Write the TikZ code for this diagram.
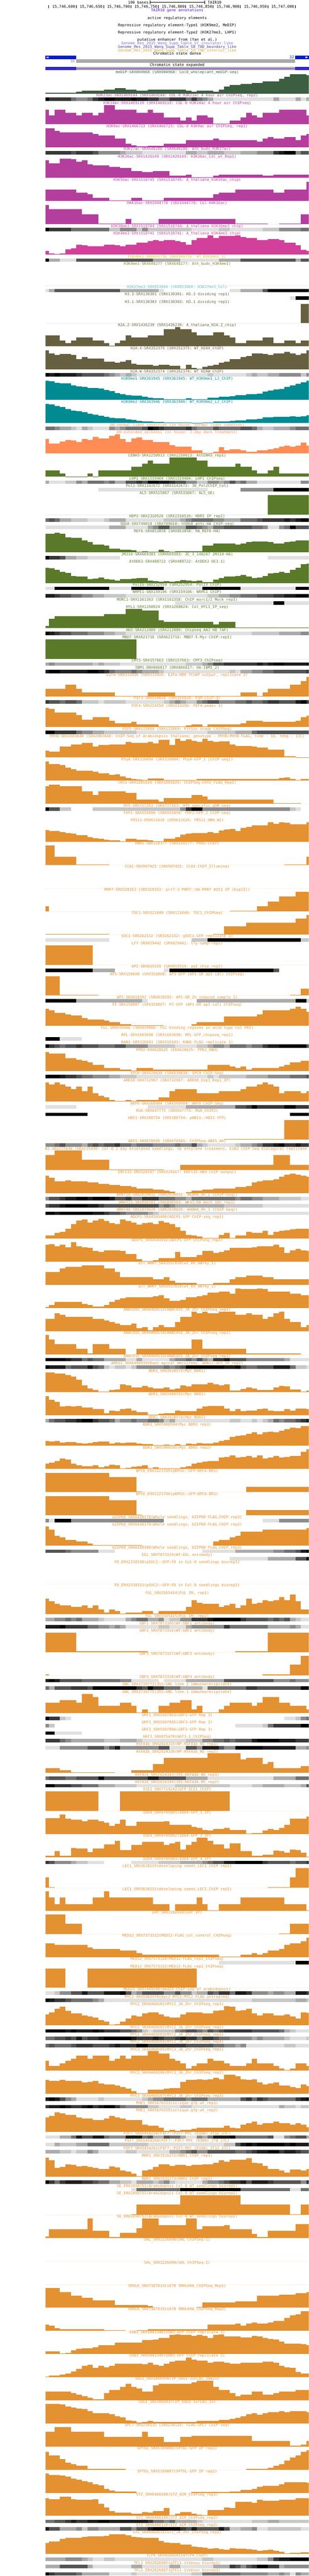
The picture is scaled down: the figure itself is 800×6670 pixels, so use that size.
\documentclass[tikz,border=0pt]{standalone}
\usepackage{fontspec}
\setmonofont{DejaVu Sans Mono}
\usepackage{tikz}
\definecolor{medipgreen}{RGB}{60,95,65}
\definecolor{acetylmag}{RGB}{180,62,158}
\definecolor{methylpink}{RGB}{210,64,155}
\definecolor{kfourtwo}{RGB}{205,205,30}
\definecolor{kfourone}{RGB}{128,128,50}
\definecolor{kzsevlight}{RGB}{100,190,190}
\definecolor{variantolive}{RGB}{102,96,64}
\definecolor{nineteal}{RGB}{0,139,147}
\definecolor{dhsalmon}{RGB}{255,140,85}
\definecolor{tfgreen}{RGB}{90,122,42}
\definecolor{tforange}{RGB}{228,145,50}
\definecolor{stateblue}{RGB}{0,32,192}
\definecolor{stategray}{RGB}{170,170,170}
\definecolor{statepurple}{RGB}{140,50,230}
\definecolor{annotblue}{RGB}{85,10,230}
\definecolor{insulator}{RGB}{123,104,238}
\definecolor{boundary}{RGB}{72,61,139}
\definecolor{interior}{RGB}{218,165,32}

\newcount\tracky
\newcount\binpos
\newcount\trackno
\newcommand{\labelfont}{\ttfamily\fontsize{9.8}{10}\selectfont}
\tikzset{
  tracklabel/.style={font=\labelfont, anchor=base, inner sep=0pt},
  headtext/.style={font=\labelfont, anchor=base, inner sep=0pt},
}
% left and right edge of a run of bins
\newcommand{\runedges}[1]{%
  \pgfmathsetmacro\xa{\the\binpos==0 ? 118 : 127+(\the\binpos-1)*14.18}%
  \global\advance\binpos by #1\relax
  \pgfmathsetmacro\xb{min(800,127+(\the\binpos-1)*14.18)}}
% signal track: label, colour, height/bins
\newcommand{\graphtrack}[3]{%
  \global\advance\trackno by 1
  \node[tracklabel, text=#2] (track\the\trackno) at (459,\the\tracky+3.5) {#1};
  \global\binpos=0
  \foreach \h/\n in {#3}{%
    \runedges{\n}
    \fill[#2] (\xa,\the\tracky+55.5) rectangle (\xb,\the\tracky+55.5-\h);
  }
  \global\advance\tracky by 60 }
% dense track: label, colour, grey/bins
\newcommand{\densetrack}[3]{%
  \global\advance\trackno by 1
  \node[tracklabel, text=#2] (track\the\trackno) at (459,\the\tracky+3.5) {#1};
  \global\binpos=0
  \foreach \g/\n in {#3}{%
    \runedges{\n}
    \ifnum\g>0 \fill[black!\g] (\xa,\the\tracky+5) rectangle (\xb,\the\tracky+14);\fi
  }
  \global\advance\tracky by 19 }

\begin{document}
\catcode`\_=12
\begin{tikzpicture}[x=1pt,y=-1pt]
\useasboundingbox (0,0) rectangle (800,6670);
% Draw the scale bar
\node[headtext, anchor=base east] (scalelabel) at (385,9.5) {100 bases};
\draw[line width=1pt] (389,2) -- (389,10.5);
\draw[line width=1pt] (389,6) -- (530,6);
\draw[line width=1pt] (530,2) -- (530,10.5);
\node[headtext, anchor=base west] (tairlabel) at (538,9.5) {TAIR10};
% Draw the ruler
\foreach \i/\lbl in {1/{15,746,600},2/{15,746,650},3/{15,746,700},4/{15,746,750},5/{15,746,800},6/{15,746,850},7/{15,746,900},8/{15,746,950},9/{15,747,000}}{
  \node[headtext, anchor=base east] (ruler\i) at (124+\i*70.9,20.5) {\lbl};
}
\foreach \i in {0,...,9}{
  \draw[line width=1pt] (126.5+\i*70.9,13) -- (126.5+\i*70.9,22);
}
% Add the annotation track labels
\node[headtext, text=annotblue] (genes) at (459,30.5) {TAIR10 gene annotations};
\node[headtext] (active) at (459,49.5) {active regulatory elements};
\node[headtext] (typeone) at (459,68.5) {Repressive regulatory element-Type1 (H3K9me2, MeDIP)};
\node[headtext] (typetwo) at (459,87.5) {Repressive regulatory element-Type2 (H3K27me3, LHP1)};
\node[headtext] (enhancer) at (459,106.5) {putative enhancer from (Yan et al.)};
\node[headtext, text=insulator] (sseven) at (459,115.5) {Genome_Res_2015_Wang_Supp_Table_S7_insulator-like};
\node[headtext, text=boundary] (seight) at (459,124.5) {Genome_Res_2015_Wang_Supp_Table_S8_TAD_boundary_like};
\node[headtext, text=interior] (snine) at (459,133.5) {Genome_Res_2015_Wang_Supp_Table_S9_TAD_interior_like};
% Draw the chromatin state tracks
\node[headtext] (statedense) at (459,142.5) {Chromatin state dense};
\fill[stateblue] (118,144) rectangle (197,153);
\fill[stateblue] (765,144) rectangle (800,153);
\fill[stategray] (197,154) rectangle (765,163);
\fill[white] (120,148.5) -- (123,146) -- (123,151) -- cycle;
\fill[white] (123,148.5) -- (126,146) -- (126,151) -- cycle;
\fill[white] (797,148.5) -- (794,146) -- (794,151) -- cycle;
\fill[white] (794,148.5) -- (791,146) -- (791,151) -- cycle;
\node[headtext, anchor=base east, text=stateblue] (thirtytwo) at (762,151.5) {32};
\node[headtext, anchor=base east, text=gray] (thirty) at (194,161.5) {30};
\node[headtext] (stateexp) at (459,171.5) {Chromatin state expanded};
\fill[stateblue] (118,173) rectangle (197,182);
\fill[stategray] (197,173) rectangle (765,182);
\fill[stateblue] (765,173) rectangle (800,182);
\draw[statepurple, line width=1pt] (118,177.5) -- (800,177.5);
\draw[statepurple, line width=1pt] (118.5,173) -- (118.5,182);
% Draw the signal tracks
\begin{scope}
\clip (118,183) rectangle (800,6670);
\global\tracky=187
\graphtrack{meDIP-SRX004968 (SRX004968: Col0_wholeplant_meDIP-seq)}{medipgreen}{2/6,5/1,8/4,11/2,14/2,11/2,8/2,11/7,8/1,5/1,8/3,5/1,11/1,18/1,22/2,25/2,28/2,32/3,38/1,44/1,50/3,48/1}
\densetrack{H3K23ac-SRX1469144 (SRX1469144: COL-0 H3K23ac 4 hour air ChIPseq, rep2)}{acetylmag}{100/1,78/4,56/1,45/2,56/1,78/1,89/1,100/2,89/3,100/1,89/2,78/2,56/2,78/3,56/1,78/1,56/1,45/1,33/1,12/11,33/1,12/3,33/1,12/1,33/1}
\graphtrack{H3K14ac-SRX1469119 (SRX1469119: COL-0 H3K14ac 4 hour air ChIPseq)}{acetylmag}{38/1,23/1,38/2,30/2,23/1,30/2,23/1,30/1,50/2,38/4,30/2,38/1,30/2,17/3,9/1,17/1,9/1,23/2,17/1,2/3,9/2,17/1,30/1,23/1,17/1,30/3,38/5,23/1}
\graphtrack{H3K9ac-SRX1466723 (SRX1466723: COL-0 H3K9ac air ChIPseq, rep1)}{acetylmag}{50/2,43/1,39/6,35/1,31/3,22/2,9/1,5/1,2/2,4/3,9/4,18/5,22/1,18/7,14/1,22/1,26/1,22/2,26/2,18/1,31/1,35/1}
\densetrack{H3K27ac-SRX648280 (SRX648280: Ath_buds_H3K27ac)}{acetylmag}{78/5,67/1,78/3,67/1,45/4,33/1,22/3,12/8,33/2,22/2,33/3,22/3,33/3,45/3,78/1,89/1,100/2,45/1,67/2}
\graphtrack{H3K36ac-SRX1426149 (SRX1426149: H3K36ac_Col_wt_Rep1)}{acetylmag}{45/1,38/2,50/2,48/1,41/1,45/1,35/1,32/3,28/2,25/2,18/2,15/2,18/3,5/3,8/1,2/4,5/1,8/8,5/2,8/7}
\graphtrack{H3K56ac-SRX1518745 (SRX1518745: A_thaliana_H3K56ac_chip)}{acetylmag}{30/6,22/2,17/1,8/3,1.5/4,8/2,1.5/4,8/9,17/1,22/3,30/7,22/2,30/4,50/1}
\graphtrack{H4K16ac-SRX1044778 (SRX1044778: Col-H4K16ac)}{acetylmag}{50/1,39/6,26/3,2/5,14/1,2/5,14/14,2/6,0/2,2/4,26/2}
\densetrack{H3K36me3-SRX1518744 (SRX1518744: A_thaliana_H3K36me3_chip)}{methylpink}{100/1,78/4,56/7,22/2,45/3,22/1,45/1,22/8,12/5,22/2,12/6,22/3,45/4,56/2}
\graphtrack{H3K4me3-SRX1518741 (SRX1518741: A_thaliana_H3K4me3_chip)}{methylpink}{10/1,3/1,2/1,3/1,14/1,16.5/1,26/1,24/1,22/3,26/2,24/1,22/1,26/2,31/2,35/1,38/1,35/1,38/2,35/1,33/1,26/1,38/1,43/2,50/1,43/1,48/3,50/1,45.5/1,43/2,38/2,41/2,38/1,31/2,25/1,12.5/1,10/1}
\densetrack{H3K4me2-DRX066756 (DRX066756: WT_H3K4me2_1)}{kfourtwo}{100/1,33/2,12/3,67/14,33/5,12/7,33/4,67/10,33/1,67/2}
\graphtrack{H3K4me1-SRX648277 (SRX648277: Ath_buds_H3K4me1)}{kfourone}{0/49}
\densetrack{H3K27me3-SRX853860 (SRX853860: H3K27me3_Col)}{kzsevlight}{12/1,33/1,67/12,33/7,12/1,0/12,12/2,33/4,67/1,100/8}
\densetrack{H3.3-SRX130301 (SRX130301: H3.3 dividing rep1)}{variantolive}{0/45,12/1,100/3}
\graphtrack{H3.1-SRX130303 (SRX130303: H3.1 dividing rep1)}{variantolive}{0/47,50/2}
\graphtrack{H2A.Z-SRX1436239 (SRX1436239: A_thaliana_H2A.Z_chip)}{variantolive}{28/3,15/1,8.5/1,15/1,23/3,15/2,8.5/1,1.5/1,8.5/1,15/1,28/1,23/3,28/3,44/2,50/1,44/2,36/1,28/3,36/2,28/1,23/1,8.5/2,15/3,23/2,8.5/2,15/2,8.5/1,15/2}
\graphtrack{H2A.X-SRX352375 (SRX352375: WT_H2AX_ChIP)}{variantolive}{50/1,42/1,37.5/1,40/2,37.5/1,27/1,32/1,28.5/3,20.5/2,17.5/1,20.5/1,24/1,15/1,12.5/3,10/1,12.5/2,9.5/2,2/1,12.5/1,3.5/1,2/1,7/1,9.5/1,12.5/1,17.5/1,20.5/1,27/2,32/1,35/1,42/2,40/1,37.5/1,42/2,45.5/1,42/1,37.5/1,42/1,50/1}
\densetrack{H2A.W-SRX352374 (SRX352374: WT_H2AW_ChIP)}{variantolive}{100/1,89/1,100/1,89/3,78/1,67/4,56/1,45/1,33/1,22/1,33/1,22/1,12/13,22/1,12/6,22/1,33/1,22/2,33/2,45/4,22/1,45/1}
\graphtrack{H3K9me1-SRX361945 (SRX361945: WT_H3K9me1_LJ_ChIP)}{nineteal}{50/1,48.7/1,44.6/1,42.4/2,37.5/1,35.3/1,33.5/1,31.3/2,29.5/1,25.4/1,22.8/1,17.9/1,15.2/1,12.9/1,11.2/2,8/1,6.3/1,4.5/2,2.2/4,4.5/1,2.2/3,6.3/2,8/2,10.3/1,12.9/2,15.2/2,17/1,21.4/1,24.6/1,27.2/1,28.6/1,33.5/1,37.5/1,41.5/1,45.5/1,49.6/1}
\graphtrack{H3K9me2-SRX361946 (SRX361946: WT_H3K9me2_LJ_ChIP)}{nineteal}{50/1,48.2/1,44.6/1,41/1,36.2/1,32.1/1,30.8/1,28.1/1,24.6/1,21.9/1,19.6/1,16.5/1,13.8/1,12/2,9.8/1,8/1,6.3/1,4.9/2,3.1/2,1.8/5,0.9/2,1.8/2,4.5/3,5.8/1,7.1/2,9.8/2,10.7/1,14.7/1,15.6/1,16.5/3,17.9/1,16.5/1,17.9/1,20/1}
\densetrack{DH-normal_light_condition (in house: normal light conditon)}{dhsalmon}{56/2,45/1,33/2,22/1,12/1,33/1,22/1,12/3,45/1,33/1,45/1,56/3,67/1,100/1,89/1,78/1,67/4,78/1,56/1,45/3,67/1,56/4,67/2,56/1,33/1,22/2,33/3,45/1,56/3}
\graphtrack{DH-extended_darkness (in house: 3-day dark treatment)}{dhsalmon}{38/1,25.4/2,30.8/1,34.8/1,33.9/1,29.9/1,38/1,34.8/1,42.9/1,38.8/2,45.5/1,49.6/1,38/1,29.9/1,38.8/1,41.5/1,34.8/2,29.9/3,21.9/1,17.9/3,8/2,2/2,5/1,17/1,8/1,11.2/2,8/1,5/2,8/2,11.2/1,13.8/1,17.9/1,21/1,17.9/1,21/1,29/1,21/1}
\graphtrack{CENH3-SRX2250913 (SRX2250913: AtCENH3_rep1)}{tfgreen}{17/3,9/1,1/4,9/1,1/1,17/6,25.5/2,34/1,42/1,34/3,50/5,42/2,25.5/5,34/1,25.5/2,17/1,9/2,17/1,25.5/1,9/6}
\densetrack{LHP1-SRX1519404 (SRX1519404: LHP1 ChIPseq)}{tfgreen}{33/1,12/3,22/2,45/1,33/1,56/3,45/1,56/1,33/2,67/2,78/1,67/1,100/2,89/2,78/1,67/2,45/2,22/2,45/2,33/1,45/1,67/1,45/1,56/1,33/2,12/8,45/2}
\densetrack{Pol2-SRX1142672 (SRX1142672: 30_Pol2ChIP_Col)}{tfgreen}{0/10,12/20,0/6,45/6,100/7}
\graphtrack{AL5-SRX515067 (SRX515067: AL5_OE)}{tfgreen}{0/41,50/8}
\densetrack{HDP2-SRX2310526 (SRX2310526: HDP2 IP rep2)}{tfgreen}{56/1,67/1,56/1,33/2,22/3,12/3,22/1,33/3,12/7,22/3,33/1,45/1,56/4,45/2,33/3,56/3,67/1,78/4,89/1,78/1,89/1,100/2}
\densetrack{SDG8-SRX749018 (SRX749018: hSDG8 anti-HA ChIP-seq)}{tfgreen}{12/12,33/3,12/4,33/1,45/1,67/2,33/3,67/2,56/1,45/1,33/1,56/2,67/5,56/2,45/1,12/2,45/1,56/1,100/1,67/3}
\graphtrack{REF6-SRX853858 (SRX853858: HA_REF6-HA)}{tfgreen}{48.5/2,50.5/1,48.5/1,39.5/1,37.5/2,31.5/1,26.5/1,20.5/2,17.5/1,9.5/2,6.5/1,7.5/1,6/1,1.5/1,3.5/1,1.5/2,6.5/1,3.5/1,1.5/1,3.5/5,17.5/2,23.5/4,20.5/1,23.5/1,26.5/1,28.5/3,26.5/1,23.5/2,26.5/1,28.5/1,31.5/3}
\densetrack{JMJ14-SRX669383 (SRX669383: ZC_3_140207 JMJ14-HA)}{tfgreen}{100/1,78/2,67/1,33/2,22/2,12/6,0/27,12/8}
\graphtrack{AtDEK3-SRX488722 (SRX488722: AtDEK3 OE3-1)}{tfgreen}{39.5/1,37.5/1,34.5/1,28.5/1,26.5/1,18.5/1,16.5/2,10.5/1,11.5/1,13.5/1,9.5/1,8.5/1,5.5/1,9.5/1,10.5/1,11.5/1,12.5/2,5.5/1,4.5/1,3.5/1,4.5/1,3.5/1,4.5/1,7.5/1,5.5/1,4.5/1,5.5/1,1.5/2,8.5/1,12.5/1,16.5/2,18.5/1,20.5/1,16.5/1,12.5/1,13.5/1,17.5/1,24.5/1,26.5/1,28.5/1,25.5/1,34.5/1,39.5/1,48.5/1,50/1}
\densetrack{PolIV-SRX252954 (SRX252954: PolIV ChIP)}{tfgreen}{12/2,100/10,12/4,100/6,12/7,100/7,12/10,100/3}
\densetrack{NRPE1-SRX159106 (SRX159106: NRPE1 ChIP)}{tfgreen}{89/2,78/1,67/2,56/2,45/2,33/2,22/4,12/15,22/2,33/2,45/2,56/3,67/3,78/2,89/2,100/3}
\densetrack{MORC1-SRX1161363 (SRX1161358: ChIP_morc1/2_Mock_rep3)}{tfgreen}{0/24,12/18,100/2,12/5}
\graphtrack{HYL1-SRX1268024 (SRX1268024: Col_HYL1_IP_seq)}{tfgreen}{6/1,25/1,31/9,36/4,50/3,46/3,21/1,16/9,10/1,16/3,1.5/14}
\densetrack{AN3-SRX212080 (SRX212080: Chipseq AN3 HB TAP)}{tfgreen}{100/1,89/1,78/1,67/2,56/3,45/3,33/2,22/2,12/23,22/5,33/4,45/2}
\graphtrack{MBD7-SRX621716 (SRX621716: MBD7-5-Myc-ChIP-rep1)}{tfgreen}{50/17,0/32}
\densetrack{CMT3-SRX157663 (SRX157663: CMT3_ChIPseq)}{tfgreen}{33/1,45/1,33/7,22/1,33/1,22/3,12/12,22/3,33/1,45/1,67/2,78/6,89/1,78/1,89/1,100/2,89/4,100/1}
\densetrack{IBM1-DRX066817 (DRX066817: HA-IBM1_2)}{tfgreen}{89/1,100/2,89/5,100/2,89/1,78/1,56/1,45/3,56/1,45/1,33/3,22/1,12/12,22/1,12/1,33/2,45/2,56/2,67/6,78/1}
\graphtrack{E2Fa-SRX333416 (SRX333416: E2Fa-HBH TChAP output, replicate 2)}{tforange}{20.5/4,30.5/2,20.5/1,10.5/6,1/6,10.5/5,1/12,10.5/3,1/1,10.5/1,20.5/4,30.5/2,39.5/1,50/1}
\densetrack{PIF3-SRX159028 (SRX159028: P3M-ChIP-3)}{tforange}{78/1,67/2,56/1,67/2,56/1,22/3,12/1,22/4,12/7,22/1,33/1,45/1,33/1,22/2,45/1,56/1,67/2,45/3,56/2,67/1,56/2,67/1,78/2,67/3,89/1,100/1,78/1}
\graphtrack{PIF4-SRX214150 (SRX214150: PIF4-peaks-3)}{tforange}{49/1,47.5/1,37.5/4,31.5/1,19/2,25/3,16/1,10/3,13/1,7/4,1.5/5,4/1,7/2,1.5/1,7/6,10/1,16/3,13/6,16/1,25/1,29/1}
\densetrack{PIF5-SRX115869 (SRX115869: PIF5ox shade ChIPSeq)}{tforange}{100/2,78/4,56/1,45/2,33/2,22/6,12/13,22/5,33/3,56/1,67/10}
\graphtrack{PHYB-SRX2083648 (SRX2083648: ChIP-Seq of Arabidopsis thaliana; genotype - PHYB:PHYB-FLAG, time - 10, temp - 17C)}{tforange}{18/1,15/2,28/2,34/2,38/2,28/1,32/2,34/3,40/1,38/3,40/1,36/1,46/2,32/1,49/1,43/1,47/1,43/1,41/1,49/1,43/1,40/1,42/2,34/1,30/3,28/1,26/2,21/3,3/2,0.5/1,1/2}
\graphtrack{PhyA-SRX320094 (SRX320094: PhyA-GFP_1 [ChIP-seq])}{tforange}{50.5/1,43.5/2,40.5/1,33.5/1,30.5/1,26.5/3,23.5/1,19.5/2,15.5/1,16.5/1,11.5/1,7/1,4/1,3/1,2/1,6/3,2/6,4/15,7/1,8/1,5/1,2/1,5/2}
\graphtrack{CRY2-SRX1005826 (SRX1005826: ChIPSeq-CRY2_FLAG_Rep1)}{tforange}{46/1,49.5/2,46/4,32/2,23.5/1,32/5,28/2,10.5/4,5.5/1,14.5/5,23.5/2,19.5/1,10.5/12,2/5,0/2}
\densetrack{HY5-SRX727353 (SRX727353: HY5 specific gDB-seq)}{tforange}{100/1,67/2,22/2,0/4,22/16,45/1,78/1,100/2,45/16,22/1,12/1,0/2}
\densetrack{FHY1-SRX555090 (SRX555090: FHY1-GFP_2_ChIP-seq)}{tforange}{0/49}
\graphtrack{FRS12-ERX611626 (ERX611626: FRS12_HBH_N2)}{tforange}{30/1,27.5/2,24.5/1,22.5/1,20.5/1,16.5/2,11.5/1,9.5/1,7.5/1,5.5/1,3.5/2,1.5/1,7.5/2,5.5/2,3.5/1,1.5/2,7.5/2,11.5/1,18.5/1,20.5/1,22.5/3,24.5/1,22.5/1,29.5/1,31.5/1,33.5/1,27.5/1,35.5/1,38.5/1,42.5/3,50.5/1,46.5/1,50.5/1,48.5/1,44.5/3,50.5/1}
\graphtrack{PRR5-SRX128177 (SRX128177: PRR5-ChIP)}{tforange}{50.5/2,21.5/4,1.5/6,0/32,1.5/4,21.5/1}
\graphtrack{CCA1-SRX997425 (SRX997425: CCA1-ChIP_Illumina)}{tforange}{0/49}
\graphtrack{PRR7-SRX328353 (SRX328353: prr7-3 PRR7::HA-PRR7 \#151 IP (ExpII))}{tforange}{13.5/1,0/33,1.5/5,13.5/2,25.5/2,38.5/3,50/3}
\graphtrack{TOC1-SRX121040 (SRX121040: TOC1_ChIPSeq)}{tforange}{1.5/12,0/19,1.5/2,20.5/4,30/9,40.5/2,50/1}
\densetrack{SOC1-SRX262132 (SRX262132: gSOC1-GFP replicate 3)}{tforange}{12/12,0/15,22/3,100/17,22/2}
\graphtrack{LFY-SRX029442 (SRX029442: lfy-samp-rep2)}{tforange}{50/9,0/40}
\densetrack{AP2-SRX019319 (SRX019319: ap2_chip_rep2)}{tforange}{100/9,33/4,0/9,12/1,100/19,67/1,0/6}
\graphtrack{AP3-SRX150808 (SRX150808: AP3-GFP (AP1-GR ap1 cal) ChIPseq)}{tforange}{50/3,1.5/7,0/35,1.5/2,17/2}
\densetrack{AP1-SRX018392 (SRX018392: AP1-GR_2h_induced_sample_1)}{tforange}{100/6,33/12,12/1,0/9,33/18,100/2,22/1}
\graphtrack{PI-SRX150807 (SRX150807: PI-GFP (AP1-GR ap1 cal) ChIPseq)}{tforange}{44/1,41/1,34/2,30/1,27/2,21/1,17/3,14/1,10/2,4.5/2,1.5/6,0/5,4.5/1,10/5,24/6,30/1,41/5,44/1,50/1,44/1,36/1}
\densetrack{FLC-SRX039006 (SRX039006: FLC binding regions in wild type Col FRI)}{tforange}{0/49}
\densetrack{RPL-SRX1603698 (SRX1603698: RPL-GFP_chipseq_rep1)}{tforange}{100/3,12/4,0/42}
\densetrack{KAN1-SRX310193 (SRX310193: KAN1-FLAG replicate 1)}{tforange}{100/1,78/1,67/1,56/1,67/2,78/1,67/3,56/3,67/2,45/4,22/5,12/4,22/2,33/1,45/2,33/1,56/3,45/1,56/2,78/1,89/2,100/5,67/1}
\graphtrack{PPD2-ERX620625 (ERX620625: PPD2_HBH)}{tforange}{49/1,46/3,33/2,29.5/1,26.5/1,22.5/1,15.5/2,8.5/3,4.5/2,1.5/1,8.5/3,4.5/10,15.5/4,11.5/1,8.5/1,11.5/1,4.5/1,8.5/5,11.5/1,15.5/1,22.5/2,26.5/2}
\densetrack{SPCH-SRX539638 (SRX539638: SPCH ChIP-Seq)}{tforange}{100/3,89/1,78/2,67/1,56/2,45/3,33/2,22/3,12/13,22/1,12/1,22/5,33/4,45/4,56/3,67/1}
\graphtrack{ARR10-SRX732967 (SRX732967: ARR10_Exp1_Rep1_IP)}{tforange}{49.5/1,44.5/1,49.5/1,44.5/1,38.5/1,32.5/1,38.5/1,26.5/1,38.5/1,21.5/1,15.5/1,10.5/1,4.5/1,1.5/2,4.5/1,1.5/1,4.5/4,10.5/2,26.5/1,32.5/4,21.5/4,26.5/4,32.5/1,38.5/2,44.5/1,49.5/1,44.5/1,38.5/1,21.5/1,26.5/3,21.5/1,26.5/1}
\densetrack{ARF6-SRX368984 (SRX368984: ARF6 ChIP-Seq)}{tforange}{12/6,0/13,12/7,33/9,67/2,78/1,100/1,78/5,100/2,78/3}
\densetrack{RGA-SRX647775 (SRX647775: RGA_ChIP2)}{tforange}{100/8,0/37,100/4}
\graphtrack{HBI1-SRX388754 (SRX388754: pHBI1::HBI1-YFP)}{tforange}{0/33,1.5/11,50/5}
\densetrack{ABI5-SRX670505 (SRX670505: ChIPSeq-ABI5_Ab)}{tforange}{45/2,56/1,67/1,45/3,33/1,56/1,67/1,56/1,67/2,78/1,56/2,45/1,56/3,45/4,56/1,45/2,67/1,33/1,22/1,12/5,22/1,33/2,45/1,56/1,78/2,89/1,100/1,78/2,89/1,78/2}
\graphtrack{EIN3-SRX215430 (SRX215430: Col-0 3-day etiolated seedlings, no ethylene treatment, EIN3 ChIP-Seq biological replicate 1)}{tforange}{38.5/2,50.5/5,26.5/5,1.5/10,0/3,13.5/17,38.5/3,13.5/4}
\graphtrack{ERF115-SRX320167 (SRX320167: ERF115-HBH ChIP output)}{tforange}{45.5/1,39.5/1,30.5/2,33.5/1,30.5/3,27.5/2,24.5/2,21.5/2,18.5/2,15.5/1,12.5/3,9.5/2,6.5/1,3.5/1,0/2,2.5/1,6.5/2,9.5/2,12.5/4,15.5/2,18.5/1,27.5/1,30.5/1,33.5/2,36.5/1,42.5/1,48.5/1,50.5/1,48.5/1,45.5/1,42.5/1}
\densetrack{WRKY18-SRX2039032 (SRX2039032: W18HA_0h_2 (ChIP-Seq))}{tforange}{45/1,67/2,78/1,89/2,100/2,89/1,100/3,89/1,67/2,78/1,56/2,78/3,56/3,45/2,33/1,56/8,45/1,56/2,45/2,33/3,22/4,12/2}
\densetrack{WRKY33-SRX890383 (SRX890383: WK33-HA mock 14h rep1)}{tforange}{67/1,78/2,89/1,100/4,89/2,78/1,67/10,45/1,56/1,45/1,33/9,22/7,12/9}
\densetrack{WRKY40-SRX2039026 (SRX2039026: W40HA_0h_1 (ChIP-Seq))}{tforange}{100/2,89/1,100/6,89/2,78/1,67/2,56/1,45/4,33/1,22/1,12/28}
\graphtrack{ADCP1-SRX4503490(ADCP1-GFP ChIP-seq_rep1)}{tforange}{7.5/2,14.5/1,16.5/1,25.5/1,37.5/1,46.5/1,48.5/1,41.5/1,46.5/1,50.5/1,44.5/1,39.5/1,37.5/1,48.5/1,44.5/1,41.5/1,35.5/1,39.5/1,41.5/1,37.5/1,44.5/1,41.5/1,37.5/1,28.5/1,19.5/1,9.5/1,7.5/1,5.5/1,1.5/3,9.5/1,14.5/1,1.5/1,7.5/2,16.5/1,14.5/2,19.5/1,9.5/1,16.5/1,19.5/1,21.5/1,23.5/1,25.5/3}
\graphtrack{ADCP1_SRX4503492(ADCP1-GFP_ChIPseq_rep2)}{tforange}{43/1,45/1,40/1,43/1,37/1,50/1,40/1,37/1,35/1,27.5/1,24.5/1,29.5/3,27.5/1,19.5/2,6.5/1,1.5/2,3.5/1,8.5/3,24.5/1,11.5/3,16.5/1,27.5/2,22.5/1,24.5/1,29.5/1,35/4,37/1,40/3,43/1,37/1,22.5/1,29.5/1,32.5/1,29.5/1,27.5/1}
\graphtrack{all_WRKY_SRX3557820(wt_0h_aWrky_1)}{tforange}{32.5/3,42.5/1,46.5/3,50.5/4,42.5/2,32.5/1,19.5/6,14.5/2,19.5/1,10.5/1,5.5/4,1.5/3,5.5/3,14.5/1,19.5/2,23.5/3,19.5/2,14.5/7}
\graphtrack{all_WRKY_SRX3557828(wt_0h_aWrky_2)}{tforange}{2/1,7/1,15.5/5,10/1,7/1,4/2,7/1,15.5/1,21.5/1,24.5/1,27.5/5,30.5/1,33.5/1,24.5/1,18.5/2,21.5/1,27.5/2,30.5/1,33.5/1,39.5/2,42.5/2,36.5/1,50.5/1,48.5/3,50.5/1,48.5/1,42.5/4,36.5/2,33.5/2}
\graphtrack{ANAC055_SRX6460113(ANAC055_JA_2hr_ChIPseq_rep1)}{tforange}{32/2,46/1,42/1,37/5,32/2,28/1,24/1,19/1,15/2,19/1,7/1,10/1,2/1,10/1,15/1,10/2,24/1,37/2,50/1,46/1,50/1,46/2,50/3,42/2,46/1,42/2,32/1,37/1,46/1,50/1,32/1,24/2,10/1,15/1}
\graphtrack{ANAC055_SRX6460114(ANAC055_JA_2hr_ChIPseq_rep2)}{tforange}{50.5/1,38.5/1,25.5/4,13.5/2,1.5/1,25.5/3,13.5/3,0/2,13.5/10,38.5/2,13.5/8,1.5/10,0/2}
\densetrack{ANAC055_SRX6460115(ANAC055_JA_2hr_ChIPseq_rep3)}{tforange}{100/4,89/1,78/2,56/1,67/1,56/2,33/4,12/2,33/1,12/5,33/1,45/2,56/1,45/1,67/1,45/1,33/1,78/2,89/1,67/3,45/7,33/1,12/4}
\densetrack{ARR12_SRX6490939(Root apical meristems, ARR12-GFP_IP_rep2)}{tforange}{100/1,89/3,56/1,67/3,89/1,67/1,56/1,22/1,12/1,22/2,12/1,22/1,45/5,56/1,45/1,56/1,67/1,100/7,89/2,100/1,67/1,56/2,67/3,89/3,56/1,22/2,12/1}
\graphtrack{BDR1_SRX3928572(Myc_BDR1)}{tforange}{50.5/2,47.5/2,44.5/1,39.5/1,31.5/1,17.5/1,9.5/1,5.5/1,1.5/2,5.5/1,6.5/1,19.5/1,17.5/1,11.5/1,12.5/1,15.5/1,11.5/1,9.5/2,11.5/1,6.5/1,9.5/1,17.5/1,14.5/1,19.5/1,20.5/2,23.5/1,20.5/1,17.5/1,19.5/1,3.5/2,8.5/1,11.5/1,9.5/1,5.5/3,11.5/1,15.5/1,14.5/1,6.5/2,1.5/1,3.5/1}
\graphtrack{BDR1_SRX5900593(Myc BDR1)}{tforange}{50/1,40/1,34.5/1,22.5/1,24.5/1,22.5/1,24.5/1,20.5/2,15.5/2,5.5/1,12.5/1,10.5/1,15.5/1,17.5/1,12.5/1,7.5/2,1.5/2,3.5/1,5.5/2,12.5/1,10.5/3,17.5/1,22.5/1,24.5/3,17.5/1,10.5/1,15.5/1,10.5/1,12.5/2,15.5/1,17.5/1,12.5/1,10.5/2,15.5/1,12.5/1,17.5/2,15.5/1}
\densetrack{BDR2_SRX3928574(Myc_BDR2)}{tforange}{33/1,56/1,67/2,78/2,89/1,100/2,78/1,67/2,56/1,33/1,45/2,56/1,45/2,56/2,45/1,22/1,33/1,12/10,22/2,12/2,22/1,12/1,22/1,33/1,56/1,45/1,56/2,67/1,78/1,89/1}
\graphtrack{BDR3_SRX5900594(Myc BDR3 rep1)}{tforange}{12.5/1,11.5/1,12.5/1,8.5/1,9.5/2,7.5/1,5.5/1,7.5/1,9.5/1,11.5/2,5.5/1,8.5/1,7.5/1,8.5/2,5.5/1,4.5/2,1.5/2,3.5/1,1.5/1,4.5/1,1.5/1,5.5/1,4.5/1,7.5/1,5.5/2,8.5/1,12.5/1,15.5/1,23.5/1,25.5/1,26.5/1,31.5/1,34.5/1,29.5/1,34.5/1,36.5/1,34.5/1,39.5/1,43.5/1,47.5/1,45.5/1,50.5/2}
\graphtrack{BDR3_SRX5900595(Myc BDR3 rep2)}{tforange}{13.5/1,16.5/1,20.5/1,27.5/1,24.5/1,13.5/1,9.5/1,7.5/2,9.5/1,4.5/1,7.5/1,11.5/1,9.5/1,1.5/1,3.5/1,5.5/1,7.5/1,9.5/1,1.5/1,4.5/1,1.5/4,4.5/1,7.5/1,13.5/1,16.5/1,18.5/1,20.5/2,29.5/1,31.5/1,35.5/1,29.5/1,31.5/1,33.5/1,29.5/1,35.5/1,27.5/1,29.5/1,33.5/1,29.5/1,31.5/1,33.5/2,44.5/1,50.5/1}
\graphtrack{BPC6_ERX2223705(pBPC6::GFP:BPC6-BR1)}{tforange}{50/12,38.5/5,1.5/1,0/19,13.5/12}
\graphtrack{BPC6_ERX2223706(pBPC6::GFP:BPC6-BR1)}{tforange}{50/12,38.5/5,1.5/1,0/19,13.5/12}
\densetrack{bZIP68_SRX6410178(Whole seedlings, bZIP68-FLAG.CHIP.rep1)}{tforange}{45/1,12/1,100/3,45/17,0/18,12/3,45/6}
\graphtrack{bZIP68_SRX6410179(Whole seedlings, bZIP68-FLAG.CHIP.rep2)}{tforange}{50.5/1,41.5/1,26.5/1,21.5/1,15.5/2,11.5/2,6.5/1,1.5/9,0/13,11.5/1,15.5/2,21.5/1,26.5/1,36.5/4,41.5/8,46.5/1}
\densetrack{bZIP68_SRX6410180(Whole seedlings, bZIP68-FLAG.CHIP.rep3)}{tforange}{67/4,56/1,45/5,12/3,0/16,12/6,33/7,45/2,56/2,67/1,89/1,100/1}
\densetrack{EEL_SRX7873339(WT:EEL antibody)}{tforange}{0/34,12/7,33/5,67/2,100/1}
\graphtrack{FD_ERX2338310(pSUC2::GFP:FD in Col-0 seedlings biorep1)}{tforange}{0/49}
\densetrack{FD_ERX2338311(pSUC2::GFP:FD in Col-0 seedlings biorep2)}{tforange}{0/49}
\graphtrack{FUL_SRX3505414(FUL IM, rep1)}{tforange}{40.5/1,33.5/1,26.5/1,22.5/2,18.5/2,22.5/1,15.5/1,22.5/1,11.5/1,4.5/1,11.5/1,8.5/1,1.5/1,4.5/3,8.5/2,1.5/1,8.5/5,18.5/1,36.5/1,29.5/1,26.5/3,18.5/1,22.5/1,26.5/1,15.5/1,22.5/1,40.5/1,26.5/1,29.5/1,36.5/1,33.5/1,36.5/1,43.5/1,36.5/1,50.5/1,33.5/1,11.5/2}
\densetrack{FUL_SRX3505415(FUL IM, rep2)}{tforange}{33/2,45/2,56/1,45/1,56/1,33/3,22/1,12/4,33/1,45/1,56/2,33/2,45/1,12/1,22/2,45/2,78/3,89/1,100/5,78/1,67/4,56/1,67/1,56/1,67/1,33/1,22/1,12/2}
\densetrack{GBF1_SRX7873305(WT:GBF1 antibody)}{tforange}{89/3,100/1,78/4,56/2,45/2,33/1,45/1,33/1,12/6,22/2,12/3,33/1,45/6,78/1,56/7,33/4,45/1,33/1,12/2}
\graphtrack{GBF2_SRX7873316(WT:GBF2 antibody)}{tforange}{50.5/6,1.5/13,0/16,1.5/6,50.5/8}
\graphtrack{GBF3_SRX7873327(WT:GBF3 antibody)}{tforange}{1.5/1,0/39,1.5/5,27/2,50/2}
\densetrack{GBF4_SRX7873338(WT:GBF4 antibody)}{tforange}{89/1,100/1,89/1,67/4,56/7,45/2,12/5,0/1,12/4,33/7,67/9,45/3,56/1,45/3}
\densetrack{GNC_SRX3739773(35S:GNC line 2 immunoprecipitate)}{tforange}{56/1,33/1,67/3,78/3,67/1,100/8,78/1,67/1,100/1,78/2,56/3,33/4,12/1,56/7,78/2,67/8,100/2}
\graphtrack{GNC_SRX3739775(35S:GNC line 1 immunoprecipitate)}{tforange}{27/3,33/3,27/1,50/2,42/1,18.5/4,27/2,18.5/1,1/1,9.5/1,1/2,18.5/2,27/2,33/2,9.5/1,18.5/1,1/3,9.5/1,18.5/1,27/4,18.5/1,27/1,42/3,27/2,18.5/3,9.5/1}
\densetrack{GRF1_SRX5507863(GRF1-GFP Rep 3)}{tforange}{100/1,78/2,22/1,12/1,0/39,12/2,22/1,45/1,56/1}
\densetrack{GRF3_SRX5507865(GRF3-GFP Rep 2)}{tforange}{45/1,22/1,0/33,12/5,22/1,56/1,78/5,100/2}
\densetrack{GRF3_SRX5507866(GRF3-GFP Rep 3)}{tforange}{100/2,12/5,0/42}
\densetrack{HAT3_SRX875470(HAT3-1_ChIPSeq)}{tforange}{78/3,56/1,45/1,33/6,22/3,33/3,22/1,12/8,22/3,45/2,56/2,67/1,56/1,67/3,89/1,100/4,89/3,78/3}
\densetrack{HSFA1b_SRX2024335(NP:HSFA1b_NS_rep1)}{tforange}{12/3,45/5,67/3,45/1,67/1,89/1,45/7,67/2,12/3,67/2,45/1,89/3,67/1,45/2,100/5,89/6,33/2,45/1}
\graphtrack{HSFA1b_SRX2024336(NP:HSFA1b_NS_rep2)}{tforange}{12.5/3,6.5/2,1.5/8,0/3,6.5/4,23.5/2,39.5/8,50.5/6,34.5/1,39.5/3,23.5/1,28.5/1,12.5/5,17.5/2}
\densetrack{HSFA1b_SRX2024343(35S:HSFA1b_NS_rep1)}{tforange}{56/1,67/3,56/2,67/4,100/1,67/8,89/2,67/5,33/4,12/12,33/4,56/3}
\densetrack{HSFA1b_SRX2024344(35S:HSFA1b_NS_rep2)}{tforange}{100/2,78/3,67/2,56/3,33/3,22/4,12/7,22/10,12/4,22/2,33/4,22/3,33/1,67/1}
\graphtrack{ICE1_SRX7719242(GFP-ICE1_ChIP)}{tforange}{50/10,0/4,50/20,0/15}
\graphtrack{IDD4_SRX4705001(IDD4-GFP_1_IP)}{tforange}{41.5/3,50.5/1,39.5/1,36.5/2,33.5/1,36.5/2,33.5/1,29.5/1,21.5/1,26.5/1,36.5/1,21.5/2,31.5/5,33.5/1,23.5/4,18.5/1,15.5/1,10.5/1,9.5/1,13.5/2,15.5/1,10.5/3,1.5/1,2.5/2,9.5/1,13.5/1,10.5/1,15.5/1,23.5/1,39.5/3,44.5/1}
\graphtrack{IDD4_SRX4705002(IDD4-GFP_3_IP)}{tforange}{4/2,15/1,4/2,24/1,22/2,13/1,22/2,33/2,42/1,18/2,31/2,40/4,31/1,36/1,40/1,20/1,31/1,40/1,50/2,42/1,33/2,22/1,36/2,15/2,4/2,6/2,17/1,15/1,11/1,20/1,18/1,11/1,1/1}
\densetrack{IDD4_SRX4705003(IDD4-GFP_4_IP)}{tforange}{78/1,67/1,45/3,33/1,22/2,12/3,0/5,12/5,22/4,33/4,45/1,56/1,67/2,89/2,100/5,78/1,67/4,56/1,67/2,78/1}
\graphtrack{LEC1_SRX3638219(developing seeds_LEC1_ChIP rep1)}{tforange}{26/1,1/1,0/39,1/4,26/1,50/3}
\graphtrack{LEC1_SRX3638221(developing seeds_LEC1_ChIP rep2)}{tforange}{50/1,34/1,17/1,34/1,17/5,34/2,50/1,34/8,17/3,0/1,17/4,34/1,17/1,1/2,17/4,34/8,17/4,1/1}
\graphtrack{LHY_SRX3182010(LHY_IP)}{tforange}{50/4,26/3,0/36,1/2,26/4}
\graphtrack{MED12_SRX7573312(MED12-FLAG_col_control_ChIPseq)}{tforange}{35.5/2,31.5/6,25.5/1,20.5/5,16.5/3,10.5/1,6.5/14,1.5/4,6.5/2,10.5/1,6.5/1,10.5/1,16.5/2,20.5/1,31.5/1,35.5/2,41.5/1,50.5/1}
\densetrack{MED12_SRX7573320(MED12-FLAG_rep1_ChIPseq)}{tforange}{0/32,12/14,100/3}
\graphtrack{MED12_SRX7573322(MED12-FLAG_rep2_ChIPseq)}{tforange}{50/4,0/4,50/20,0/21}
\densetrack{MED25_SRX7445540(med25 ChIP-seq of arabidopsis)}{tforange}{12/2,22/1,45/2,67/2,89/1,67/3,89/3,100/1,67/1,33/1,45/1,67/4,45/2,67/1,45/2,22/1,33/2,67/1,56/1,78/2,56/1,89/2,78/1,45/3,33/1,45/2,33/2,89/2,78/1}
\densetrack{MYC2_SRX5982476(myc2_MYC2:MYC2_FLAG_untreated)}{tforange}{100/1,89/1,78/2,67/1,56/4,45/1,33/1,12/27,22/8,33/2,22/1}
\graphtrack{MYC2_SRX6460101(MYC2_JA_2hr_ChIPseq_rep1)}{tforange}{28.5/1,34.5/1,43.5/1,48/1,37.5/1,31.5/2,26.5/1,23.5/1,20.5/1,14.5/1,9.5/1,1.5/1,3.5/1,9.5/1,17.5/1,26.5/1,23.5/1,31.5/1,34.5/2,28.5/1,23.5/1,20.5/2,28.5/1,34.5/3,31.5/2,37.5/1,39.5/1,50/1,48/1,37.5/1,39.5/1,43.5/1,31.5/1,26.5/1,31.5/2,26.5/2,28.5/1,23.5/1,17.5/1,34.5/1,32.5/1}
\densetrack{MYC2_SRX6460102(MYC2_JA_2hr_ChIPseq_rep2)}{tforange}{100/4,89/1,100/1,89/3,100/1,89/1,78/3,67/2,56/1,45/1,22/1,12/1,22/4,45/1,56/1,67/2,56/1,45/1,67/1,56/1,67/1,78/5,67/5,56/1,33/1,22/1,12/3}
\densetrack{MYC2_SRX6460103(MYC2_JA_2hr_ChIPseq_rep3)}{tforange}{56/2,67/2,78/1,67/1,89/1,67/1,78/2,89/1,100/5,89/1,78/3,89/1,78/1,67/2,78/1,89/1,78/2,56/1,78/2,67/1,56/2,45/4,33/1,45/1,33/4,22/1,12/3,22/1}
\densetrack{MYC2_SRX6460104(MYC2_JA_2hr_ChIPseq_rep4)}{tforange}{56/1,67/1,56/3,67/1,78/3,67/3,78/1,89/1,78/3,100/2,78/7,67/5,56/2,45/2,33/1,45/1,12/7,22/2,12/3}
\graphtrack{MYC3_SRX6460105(MYC3_JA_2hr_ChIPseq_rep1)}{tforange}{25.5/1,12.5/2,18.5/1,25.5/1,31.5/1,38.5/2,31.5/1,38.5/3,25.5/1,31.5/1,38.5/1,31.5/1,38.5/3,50.5/2,44.5/2,31.5/1,25.5/1,18.5/1,5.5/1,12.5/1,18.5/2,31.5/1,25.5/2,18.5/1,12.5/3,18.5/1,31.5/1,18.5/3,12.5/1,5.5/1,1.5/1,5.5/1,18.5/2,12.5/1}
\graphtrack{MYC3_SRX6460106(MYC3_JA_2hr_ChIPseq_rep2)}{tforange}{36/1,34/2,36/1,34/3,29/1,31/1,34/1,27/1,24.5/2,22/1,17.5/1,13.5/1,6.5/1,1.5/2,10.5/3,13.5/1,15.5/2,31/1,36/2,38/1,36/1,38/1,41/1,38/1,50/2,45/1,38/1,36/1,38/1,29/1,24.5/1,27/1,29/1,22/2,17.5/1,15.5/1,24.5/1,20.5/1}
\densetrack{MYC3_SRX6460107(MYC3_JA_2hr_ChIPseq_rep3)}{tforange}{89/1,100/1,89/1,67/1,45/1,33/1,12/4,22/1,12/7,22/1,33/1,45/2,56/4,45/1,56/3,33/6,67/1,78/1,56/1,78/1,67/1,56/5,78/1,89/1,100/1}
\densetrack{PHE1_SRX5676333(silique.gfp.wt_rep1)}{tforange}{78/1,89/2,100/1,89/1,78/2,89/1,100/1,78/1,89/1,100/2,78/1,56/1,45/4,22/2,12/4,22/2,12/16,33/1,22/2,12/1,22/2}
\graphtrack{PHE1_SRX5676335(silique.gfp.wt_rep2)}{tforange}{36.5/1,40.5/1,50.5/1,47.5/1,43.5/2,36.5/1,33.5/2,29.5/2,33.5/1,40.5/1,36.5/1,33.5/1,29.5/3,18.5/1,15.5/2,10.5/1,1.5/1,4.5/1,1.5/1,4.5/2,7.5/1,10.5/5,15.5/1,10.5/1,8.5/1,18.5/1,22.5/1,25.5/1,18.5/1,22.5/2,25.5/1,22.5/2,18.5/1,22.5/1,18.5/1,11.5/1}
\densetrack{PIF7_SRX5454258(PIF7::PIF7-MYC (D108)_ZT12_27C)}{tforange}{12/3,33/2,56/1,89/1,67/2,89/2,56/1,45/3,89/3,56/1,67/1,33/2,67/1,56/2,33/1,12/2,45/1,33/1,56/1,89/3,100/1,56/6,67/1,12/2,45/1,56/1,67/2,33/1}
\densetrack{PIF7_SRX5454260(PIF7::PIF7-MYC (D108)_ZT8_27C)}{tforange}{12/2,33/1,22/3,33/2,56/4,22/7,12/14,22/2,67/1,89/1,100/1,89/1,100/5,89/1,100/1,89/3}
\densetrack{PIF7_SRX5454262(PIF7::PIF7-MYC (D108)_ZT12_27C)}{tforange}{33/3,22/2,12/1,22/2,45/1,33/1,12/5,22/2,12/6,33/2,45/1,56/1,67/1,45/2,67/5,56/2,67/1,78/1,89/2,100/2,78/1,89/2,78/1,67/2}
\graphtrack{RBR1_SRX3531272(RBR1_ChIP_rep1)}{tforange}{50/1,42.5/1,22.5/1,25.5/1,32.5/1,30.5/1,26.5/1,28.5/1,25.5/1,22.5/1,20.5/2,26.5/1,24.5/1,16.5/1,13.5/1,8.5/1,1.5/1,16.5/1,18.5/1,25.5/1,32.5/2,28.5/1,30.5/2,28.5/1,30.5/2,32.5/2,36.5/1,42.5/1,38.5/1,44.5/3,48.5/1,36.5/1,34.5/1,28.5/1,20.5/2,16.5/1,10.5/1,18.5/2,16.5/1,20.5/1}
\densetrack{RBR1_SRX3531273(RBR1_ChIP_rep2)}{tforange}{100/1,78/1,56/1,78/1,89/3,78/2,67/1,56/2,33/2,22/2,12/1,33/3,22/1,33/1,45/1,22/1,12/5,33/1,45/2,56/1,67/1,78/2,89/1,67/1,89/3,78/1,67/5,45/1,78/1}
\densetrack{SE_ERX2858751(Arabidopsis Col-0 WT seedlings biorep1)}{tforange}{0/16,12/1,56/8,100/11,56/9,12/2,56/2}
\graphtrack{SE_ERX2858752(Arabidopsis Col-0 WT seedlings biorep1)}{tforange}{0/16,1/1,26/8,50/11,26/9,1/2,26/2}
\graphtrack{SE_ERX2858753(Arabidopsis Col-0 WT seedlings biorep1)}{tforange}{4/1,22/7,50/1,18/3,2/2,13/3,25/1,50/3,33/5,50/2,22/1,30/4,33/1,22/4,10/1,2/2,18/5,36/3}
\graphtrack{SHL_SRX3226098(SHL ChIPSeq-1)}{tforange}{0/49}
\graphtrack{SHL_SRX3226099(SHL ChIPSeq-2)}{tforange}{0/49}
\graphtrack{SMXL6_SRX7187013(s678 SMXL6HA_ChIPSeq_Rep1)}{tforange}{50.5/3,39.5/2,30.5/2,24.5/2,18.5/4,6.5/6,3.5/1,0/8,1.5/1,12.5/6,15.5/4,30.5/4,33.5/3,36.5/2,39.5/1}
\graphtrack{SMXL6_SRX7187015(s678 SMXL6HA_ChIPSeq_Rep2)}{tforange}{15.5/1,12.5/1,6.5/1,3.5/8,1.5/4,0/2,1.5/2,3.5/11,15.5/5,18.5/1,12.5/1,18.5/1,21.5/1,18.5/2,21.5/1,24.5/2,33.5/1,39.5/1,42.5/1,50.5/2}
\graphtrack{SOB3_SRX5001348(SOB3-GFP ChIP replicate 1)}{tforange}{6.5/3,1.5/1,2.5/1,8.5/1,12.5/1,14.5/2,16.5/1,22.5/3,28.5/5,35.5/2,36.5/1,40.5/2,48.5/1,50.5/1,48.5/1,49.5/1,46.5/1,48.5/1,46.5/1,40.5/1,48.5/1,50.5/1,45.5/3,42.5/2,46.5/1,45.5/1,40.5/1,38.5/1,36.5/1,31.5/1,26.5/3,25.5/1,22.5/1}
\graphtrack{SOB3_SRX5001349(SOB3-GFP ChIP replicate 2)}{tforange}{1.5/1,3.5/2,6.5/1,9.5/1,14.5/1,20.5/1,28.5/1,31.5/1,23.5/1,28.5/1,25.5/1,28.5/1,34.5/5,32.5/1,37.5/1,31.5/1,28.5/1,34.5/1,39.5/1,42.5/2,50.5/1,45.5/1,42.5/2,37.5/1,39.5/2,37.5/1,34.5/2,37.5/4,39.5/2,37.5/1,28.5/1,25.5/1,23.5/1,12.5/1,9.5/2}
\graphtrack{SOG1_SRX3866936(IP_SOG1-3xFLAG_20min)}{tforange}{21.5/5,17.5/1,13.5/1,9.5/1,5.5/1,1.5/2,17.5/1,25.5/2,34.5/1,42/1,34.5/1,29.5/1,21.5/2,38.5/1,42/6,46/1,50/3,34.5/1,25.5/2,17.5/1,9.5/1,13.5/2,21.5/2,13.5/2,17.5/1,21.5/3,25.5/3}
\graphtrack{SOG1_SRX3866937(IP_SOG1-3xFLAG_1h)}{tforange}{50.5/3,48.5/1,43.5/1,40.5/1,38.5/1,36.5/1,31.5/1,26.5/3,23.5/1,18.5/1,15.5/1,7.5/1,5.5/1,1.5/1,3.5/1,6.5/1,3.5/8,5.5/4,8.5/2,11.5/1,13.5/1,18.5/1,23.5/1,26.5/1,21.5/1,26.5/1,28.5/2,31.5/1,28.5/1,31.5/3,28.5/1}
\graphtrack{SPL7-SRX250135 (SRX250135: FLAG-SPL7 ChIP-seq)}{tforange}{37.5/2,50.5/3,37.5/6,24.5/7,37.5/1,24.5/3,11.5/3,24.5/2,27.5/11,14.5/7,1.5/2,4.5/1,14.5/1}
\graphtrack{SPT6L_SRX5169086(SPT6L-GFP IP rep1)}{tforange}{46/1,37/2,28/1,18.5/1,14.5/1,9.5/2,1.5/7,0/22,1.5/4,4.5/1,9.5/1,14.5/1,23.5/1,32/1,37/1,46/1,50/1}
\graphtrack{SPT6L_SRX5169087(SPT6L-GFP IP rep2)}{tforange}{50.5/1,46.5/2,44.5/1,41.5/1,36.5/1,34.5/1,29.5/1,27.5/1,22.5/1,19.5/1,10.5/1,5.5/1,3.5/4,0/10,1.5/7,3.5/2,7.5/2,10.5/1,15.5/1,17.5/3,22.5/1,27.5/4,25.5/1}
\graphtrack{STZ_SRX6460108(STZ_AIR_ChIPseq_rep1)}{tforange}{46.5/1,43.5/2,50.5/1,49.5/1,43.5/1,41.5/3,43.5/1,31.5/1,22.5/1,12.5/1,8.5/3,5.5/2,10.5/1,8.5/1,12.5/2,20.5/1,2.5/1,5.5/1,10.5/2,5.5/1,3.5/1,1.5/1,15.5/3,22.5/1,20.5/1,36.5/3,34.5/1,41.5/1,39.5/3,41.5/3,46.5/3}
\densetrack{STZ_SRX6460109(STZ_AIR_ChIPseq_rep2)}{tforange}{56/2,67/2,78/1,89/1,78/2,89/2,100/2,89/7,78/1,56/2,45/1,56/1,33/4,22/1,12/9,22/3,33/2,22/6}
\densetrack{STZ_SRX6460110(STZ_AIR_ChIPseq_rep3)}{tforange}{89/1,67/2,33/3,45/1,22/1,45/2,33/4,67/2,45/1,67/2,89/1,100/5,78/1,67/1,89/1,67/4,89/1,67/1,22/2,33/2,45/1,12/2,22/6,12/2}
\graphtrack{STZ_SRX6460111(STZ_JA_2hr_ChIPseq_rep1)}{tforange}{28.5/1,32.5/2,38.5/1,41.5/3,43.5/1,45.5/3,46.5/1,50.5/3,47.5/1,44.5/1,42.5/1,41.5/3,33.5/1,29.5/1,28.5/2,23.5/2,18.5/1,17.5/1,15.5/1,13.5/1,14.5/1,12.5/1,10.5/1,14.5/1,13.5/2,12.5/1,10.5/1,8.5/1,9.5/1,10.5/1,8.5/1,5.5/1,1.5/1,2.5/2,4.5/2}
\densetrack{TCP4_SRX4168241(mTCP4_ChIP)}{tforange}{33/4,45/3,33/1,22/1,12/2,22/2,12/16,22/2,12/8,22/2,45/1,78/1,89/2,100/4}
\densetrack{TFL1_ERX2826885(gTFL1-1xVenus_biorep1)}{tforange}{33/3,67/5,33/1,12/7,33/2,12/5,33/2,12/6,33/3,78/1,67/1,45/1,67/1,78/1,100/2,78/2,33/1,45/5}
\densetrack{TFL1_ERX2826887(gTFL1-1xVenus_biorep3)}{tforange}{100/1,78/1,67/4,56/1,33/5,12/4,22/1,12/10,22/2,56/7,45/5,33/2,45/1,33/1,12/1,45/1,33/2}
\end{scope}
\end{tikzpicture}
\end{document}
